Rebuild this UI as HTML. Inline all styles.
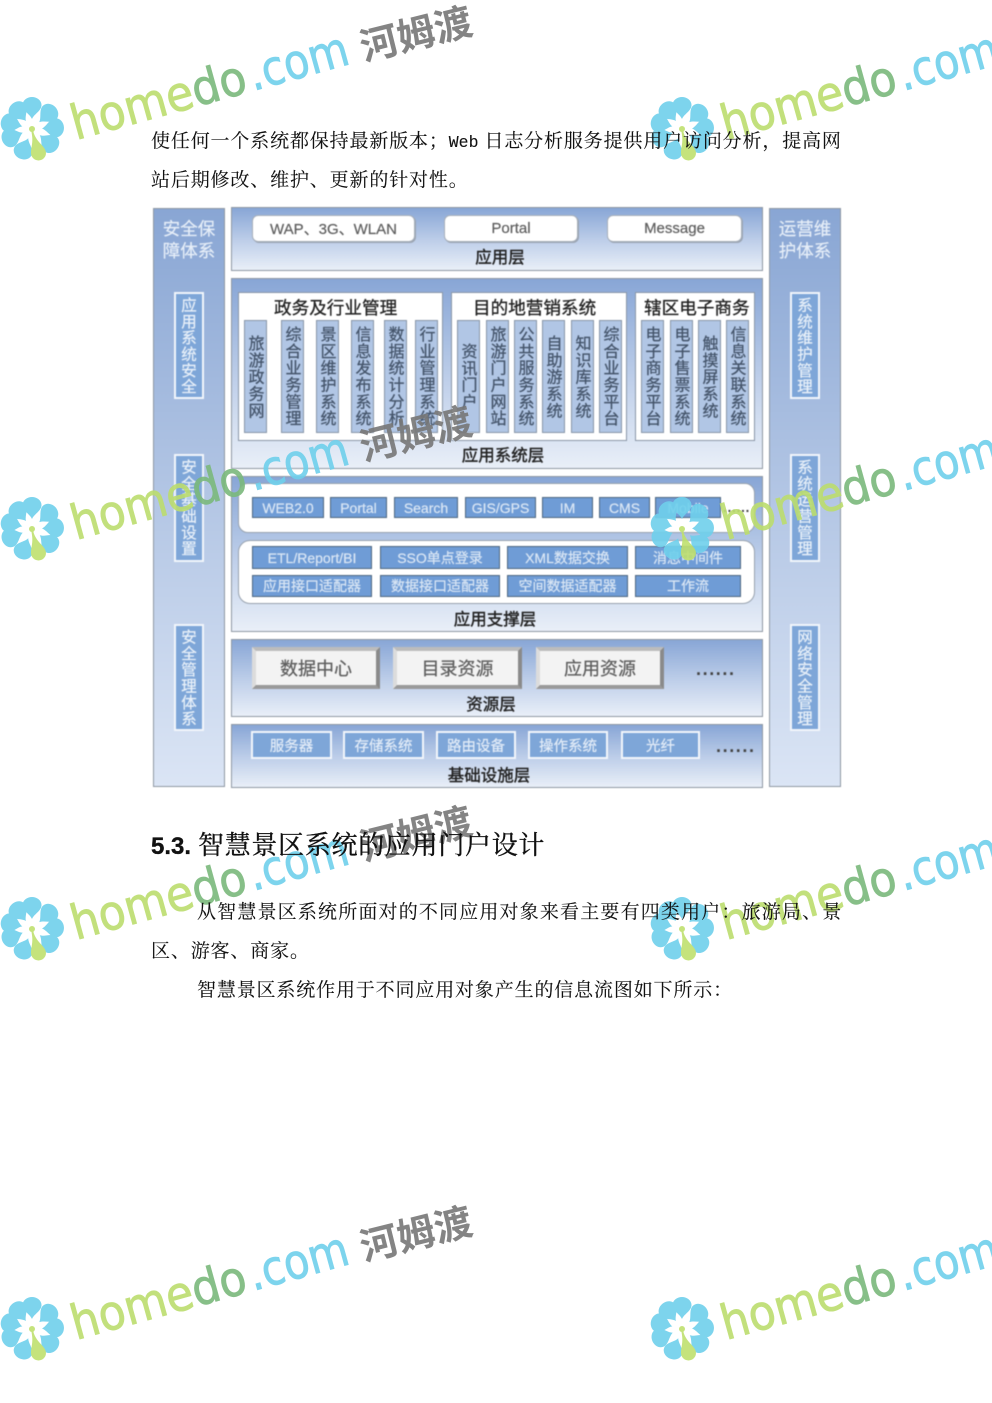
<!DOCTYPE html>
<html lang="zh">
<head>
<meta charset="utf-8">
<title>智慧景区系统</title>
<style>
html,body{margin:0;padding:0;background:#fff}
#p{position:relative;width:992px;height:1403px;overflow:hidden;background:#fff}
#d{position:absolute;left:0;top:0;width:992px;height:1403px;filter:blur(.45px);font-family:"Liberation Sans","Noto Sans CJK SC",sans-serif}
#d div{position:absolute;box-sizing:border-box}
.side{background:linear-gradient(#89a6d4,#afc3e3 45%,#dbe5f5);border:1.5px solid #8f98a3;top:208px;width:72px;height:579px}
.lay{left:231px;width:532px;border:1.5px solid #8f98a3;background:linear-gradient(#88a6d6,#c0d0ea 55%,#e9eff8)}
.st{color:#e6eef8;font-size:17.5px;line-height:22px;text-align:center;width:56px;-webkit-text-stroke:.2px #e6eef8}
.sb{width:30px;background:#7ea6d8;border:2px solid #f2f6fb;color:#e8f0f9;font-size:15.5px;display:flex;align-items:center;justify-content:center;writing-mode:vertical-rl;text-orientation:upright;letter-spacing:.8px;white-space:nowrap;padding-right:4px;-webkit-text-stroke:.25px #e8f0f9}
.wb{background:#fff;border:1.5px solid #a7afba;border-radius:6px;top:215px;height:27px;color:#5e5e5e;font-size:15px;display:flex;align-items:center;justify-content:center;box-shadow:1px 1px 0 #9aa4b2;-webkit-text-stroke:.2px #5e5e5e}
.t{color:#222;font-size:16.5px;line-height:20px;text-align:center;white-space:nowrap;transform:translateX(-50%);-webkit-text-stroke:.4px #222}
.g{background:#fff;border:1.5px solid #8a97a8;top:292px;height:149px}
.gt{color:#222;font-size:17.6px;line-height:22px;top:297px;white-space:nowrap;-webkit-text-stroke:.3px #222}
.c{top:320px;height:113px;width:23px;background:#b1c6e5;border:1.5px solid #8896a8;color:#44546a;font-size:16px;display:flex;align-items:center;justify-content:center;writing-mode:vertical-rl;text-orientation:upright;letter-spacing:.8px;white-space:nowrap;padding-right:4px;-webkit-text-stroke:.25px #44546a}
.b{background:#6f9cd6;border:1.5px solid #4f6781;color:#dbe7f5;font-size:14px;display:flex;align-items:center;justify-content:center;white-space:nowrap;-webkit-text-stroke:.2px #dbe7f5}
.r{background:#fff;border:1.5px solid #98a2ae;left:238px;width:517px}
.bt{top:647px;height:42px;background:#f3f3f3;border:4px solid;border-color:#bcbcbc #8a8a8a #9a9a9a #dcdcdc;color:#5e5e5e;font-size:18px;display:flex;align-items:center;justify-content:center;-webkit-text-stroke:.25px #5e5e5e}
.i{top:731px;height:28px;background:#7ea6d8;border:2px solid #f2f6fb;color:#e4edf8;font-size:14.5px;display:flex;align-items:center;justify-content:center;-webkit-text-stroke:.2px #e4edf8}
.dt{color:#444;font-size:18px;font-weight:bold;line-height:14px;letter-spacing:1.6px;white-space:nowrap}
#w{position:absolute;left:0;top:0;opacity:.9}
.x{position:absolute;font-family:"Liberation Serif","Noto Serif CJK SC",serif;font-size:19px;letter-spacing:.85px;line-height:26px;color:#111;white-space:nowrap;-webkit-text-stroke:.1px #111}
.m{font-family:"Liberation Mono",monospace;font-size:16.5px;letter-spacing:0;margin-right:6px}
.h{font-family:"DejaVu Sans",sans-serif;font-size:48px;stroke-width:.9}
</style>
</head>
<body>
<div id="p">
<div id="d">
<div class="side" style="left:153px"></div>
<div class="side" style="left:769px"></div>
<div class="st" style="left:161px;top:218px">安全保<br>障体系</div>
<div class="st" style="left:777px;top:218px">运营维<br>护体系</div>
<div class="sb" style="left:174px;top:292px;height:107px">应用系统安全</div>
<div class="sb" style="left:174px;top:454px;height:108px">安全基础设置</div>
<div class="sb" style="left:174px;top:624px;height:107px">安全管理体系</div>
<div class="sb" style="left:790px;top:292px;height:107px">系统维护管理</div>
<div class="sb" style="left:790px;top:454px;height:108px">系统运营管理</div>
<div class="sb" style="left:790px;top:624px;height:107px">网络安全管理</div>

<div class="lay" style="top:207px;height:64px"></div>
<div class="wb" style="left:252px;width:163px">WAP、3G、WLAN</div>
<div class="wb" style="left:444px;width:134px">Portal</div>
<div class="wb" style="left:607px;width:135px">Message</div>
<div class="t" style="left:500px;top:248px">应用层</div>

<div class="lay" style="top:278px;height:191px"></div>
<div class="g" style="left:238px;width:205px"></div>
<div class="g" style="left:451px;width:176px"></div>
<div class="g" style="left:635px;width:120px"></div>
<div class="gt" style="left:274px">政务及行业管理</div>
<div class="gt" style="left:473px">目的地营销系统</div>
<div class="gt" style="left:644px">辖区电子商务</div>
<div class="c" style="left:244px">旅游政务网</div>
<div class="c" style="left:281px">综合业务管理</div>
<div class="c" style="left:316px">景区维护系统</div>
<div class="c" style="left:351px">信息发布系统</div>
<div class="c" style="left:384px">数据统计分析</div>
<div class="c" style="left:415px">行业管理系统</div>
<div class="c" style="left:457px">资讯门户</div>
<div class="c" style="left:486px">旅游门户网站</div>
<div class="c" style="left:514px">公共服务系统</div>
<div class="c" style="left:542px">自助游系统</div>
<div class="c" style="left:571px">知识库系统</div>
<div class="c" style="left:599px">综合业务平台</div>
<div class="c" style="left:641px">电子商务平台</div>
<div class="c" style="left:670px">电子售票系统</div>
<div class="c" style="left:698px">触摸屏系统</div>
<div class="c" style="left:726px">信息关联系统</div>
<div class="t" style="left:503px;top:446px">应用系统层</div>

<div class="lay" style="top:476px;height:156px"></div>
<div class="r" style="top:483px;height:50px;border-radius:10px"></div>
<div class="b" style="left:252px;top:497px;width:72px;height:21px">WEB2.0</div>
<div class="b" style="left:330px;top:497px;width:57px;height:21px">Portal</div>
<div class="b" style="left:394px;top:497px;width:64px;height:21px">Search</div>
<div class="b" style="left:465px;top:497px;width:71px;height:21px">GIS/GPS</div>
<div class="b" style="left:542px;top:497px;width:51px;height:21px">IM</div>
<div class="b" style="left:599px;top:497px;width:51px;height:21px">CMS</div>
<div class="b" style="left:655px;top:497px;width:66px;height:21px">Mobile</div>
<div class="dt" style="left:723px;top:500px;font-size:14px;letter-spacing:.6px">......</div>
<div class="r" style="top:540px;height:64px;border-radius:12px"></div>
<div class="b" style="left:252px;top:546px;width:120px;height:23px">ETL/Report/BI</div>
<div class="b" style="left:380px;top:546px;width:120px;height:23px">SSO单点登录</div>
<div class="b" style="left:507px;top:546px;width:121px;height:23px">XML数据交换</div>
<div class="b" style="left:635px;top:546px;width:106px;height:23px">消息中间件</div>
<div class="b" style="left:252px;top:575px;width:120px;height:22px">应用接口适配器</div>
<div class="b" style="left:380px;top:575px;width:120px;height:22px">数据接口适配器</div>
<div class="b" style="left:507px;top:575px;width:121px;height:22px">空间数据适配器</div>
<div class="b" style="left:635px;top:575px;width:106px;height:22px">工作流</div>
<div class="t" style="left:495px;top:610px">应用支撑层</div>

<div class="lay" style="top:639px;height:78px"></div>
<div class="bt" style="left:252px;width:128px">数据中心</div>
<div class="bt" style="left:393px;width:129px">目录资源</div>
<div class="bt" style="left:536px;width:128px">应用资源</div>
<div class="dt" style="left:696px;top:662px">......</div>
<div class="t" style="left:491px;top:695px">资源层</div>

<div class="lay" style="top:724px;height:64px"></div>
<div class="i" style="left:251px;width:81px">服务器</div>
<div class="i" style="left:343px;width:81px">存储系统</div>
<div class="i" style="left:436px;width:80px">路由设备</div>
<div class="i" style="left:528px;width:80px">操作系统</div>
<div class="i" style="left:621px;width:79px">光纤</div>
<div class="dt" style="left:716px;top:739px">......</div>
<div class="t" style="left:489px;top:766px">基础设施层</div>
</div>

<svg id="w" width="992" height="1403" viewBox="0 0 992 1403" font-family="'Liberation Sans','Noto Sans CJK SC',sans-serif">
<defs>
<path id="pt" d="M0,-10 C-2,-15 -9.5,-18 -9.5,-24 A9.5,8 0 0 1 9.5,-24 C9.5,-18 2,-15 0,-10Z"/>
<g id="fl">
<g fill="#6fd0ec">
<use href="#pt" transform="translate(32,129) rotate(0)"/>
<use href="#pt" transform="translate(32,129) rotate(47)"/>
<use href="#pt" transform="translate(32,129) rotate(87)"/>
<use href="#pt" transform="translate(32,129) rotate(129)"/>
<use href="#pt" transform="translate(32,129) rotate(202)"/>
<use href="#pt" transform="translate(32,129) rotate(248)"/>
<use href="#pt" transform="translate(32,129) rotate(285)"/>
<use href="#pt" transform="translate(32,129) rotate(323)"/>
</g>
<path d="M33,130 C35,142 46,146 46,153 A7.5,7.5 0 0 1 31,153 C31,146 34,142 31,130Z" fill="#bfe06e"/>
<circle cx="32" cy="129" r="3" fill="#bfe06e"/>
</g>
</defs>

<use href="#fl"/>
<g transform="translate(76,140) rotate(-15.5)"><text class="h" textLength="180" lengthAdjust="spacingAndGlyphs" fill="#bcdd6e" stroke="#bcdd6e"><tspan>home</tspan><tspan fill="#7bb97c" stroke="#7bb97c">do</tspan></text><text class="h" x="184" textLength="102" lengthAdjust="spacingAndGlyphs" fill="#6fd0ec" stroke="#6fd0ec">.com</text></g>
<text transform="translate(364,61) rotate(-14)" font-size="38" font-weight="bold" fill="#777">河姆渡</text>

<g transform="translate(650,0)"><use href="#fl"/>
<g transform="translate(76,140) rotate(-15.5)"><text class="h" textLength="180" lengthAdjust="spacingAndGlyphs" fill="#bcdd6e" stroke="#bcdd6e"><tspan>home</tspan><tspan fill="#7bb97c" stroke="#7bb97c">do</tspan></text><text class="h" x="184" textLength="102" lengthAdjust="spacingAndGlyphs" fill="#6fd0ec" stroke="#6fd0ec">.com</text></g></g>

<g transform="translate(0,400)"><use href="#fl"/>
<g transform="translate(76,140) rotate(-15.5)"><text class="h" textLength="180" lengthAdjust="spacingAndGlyphs" fill="#bcdd6e" stroke="#bcdd6e"><tspan>home</tspan><tspan fill="#7bb97c" stroke="#7bb97c">do</tspan></text><text class="h" x="184" textLength="102" lengthAdjust="spacingAndGlyphs" fill="#6fd0ec" stroke="#6fd0ec">.com</text></g>
<text transform="translate(364,61) rotate(-14)" font-size="38" font-weight="bold" fill="#777">河姆渡</text></g>

<g transform="translate(650,400)"><use href="#fl"/>
<g transform="translate(76,140) rotate(-15.5)"><text class="h" textLength="180" lengthAdjust="spacingAndGlyphs" fill="#bcdd6e" stroke="#bcdd6e"><tspan>home</tspan><tspan fill="#7bb97c" stroke="#7bb97c">do</tspan></text><text class="h" x="184" textLength="102" lengthAdjust="spacingAndGlyphs" fill="#6fd0ec" stroke="#6fd0ec">.com</text></g></g>

<g transform="translate(0,800)"><use href="#fl"/>
<g transform="translate(76,140) rotate(-15.5)"><text class="h" textLength="180" lengthAdjust="spacingAndGlyphs" fill="#bcdd6e" stroke="#bcdd6e"><tspan>home</tspan><tspan fill="#7bb97c" stroke="#7bb97c">do</tspan></text><text class="h" x="184" textLength="102" lengthAdjust="spacingAndGlyphs" fill="#6fd0ec" stroke="#6fd0ec">.com</text></g>
<text transform="translate(364,61) rotate(-14)" font-size="38" font-weight="bold" fill="#777">河姆渡</text></g>

<g transform="translate(650,800)"><use href="#fl"/>
<g transform="translate(76,140) rotate(-15.5)"><text class="h" textLength="180" lengthAdjust="spacingAndGlyphs" fill="#bcdd6e" stroke="#bcdd6e"><tspan>home</tspan><tspan fill="#7bb97c" stroke="#7bb97c">do</tspan></text><text class="h" x="184" textLength="102" lengthAdjust="spacingAndGlyphs" fill="#6fd0ec" stroke="#6fd0ec">.com</text></g></g>

<g transform="translate(0,1200)"><use href="#fl"/>
<g transform="translate(76,140) rotate(-15.5)"><text class="h" textLength="180" lengthAdjust="spacingAndGlyphs" fill="#bcdd6e" stroke="#bcdd6e"><tspan>home</tspan><tspan fill="#7bb97c" stroke="#7bb97c">do</tspan></text><text class="h" x="184" textLength="102" lengthAdjust="spacingAndGlyphs" fill="#6fd0ec" stroke="#6fd0ec">.com</text></g>
<text transform="translate(364,61) rotate(-14)" font-size="38" font-weight="bold" fill="#777">河姆渡</text></g>

<g transform="translate(650,1200)"><use href="#fl"/>
<g transform="translate(76,140) rotate(-15.5)"><text class="h" textLength="180" lengthAdjust="spacingAndGlyphs" fill="#bcdd6e" stroke="#bcdd6e"><tspan>home</tspan><tspan fill="#7bb97c" stroke="#7bb97c">do</tspan></text><text class="h" x="184" textLength="102" lengthAdjust="spacingAndGlyphs" fill="#6fd0ec" stroke="#6fd0ec">.com</text></g></g>
</svg>

<div class="x" style="left:151px;top:129px">使任何一个系统都保持最新版本；<span class="m">Web</span>日志分析服务提供用户访问分析，提高网</div>
<div class="x" style="left:151px;top:168px">站后期修改、维护、更新的针对性。</div>
<div class="x" style="left:151px;top:829px;font-size:26px;letter-spacing:.7px;line-height:34px;-webkit-text-stroke:.35px #111"><span style="font-family:'Liberation Sans',sans-serif;font-weight:bold;font-size:24px;letter-spacing:0;margin-right:7px">5.3.</span>智慧景区系统的应用门户设计</div>
<div class="x" style="left:197px;top:900px;letter-spacing:1.17px">从智慧景区系统所面对的不同应用对象来看主要有四类用户：旅游局、景</div>
<div class="x" style="left:151px;top:939px">区、游客、商家。</div>
<div class="x" style="left:197px;top:978px">智慧景区系统作用于不同应用对象产生的信息流图如下所示：</div>
</div>
</body>
</html>
